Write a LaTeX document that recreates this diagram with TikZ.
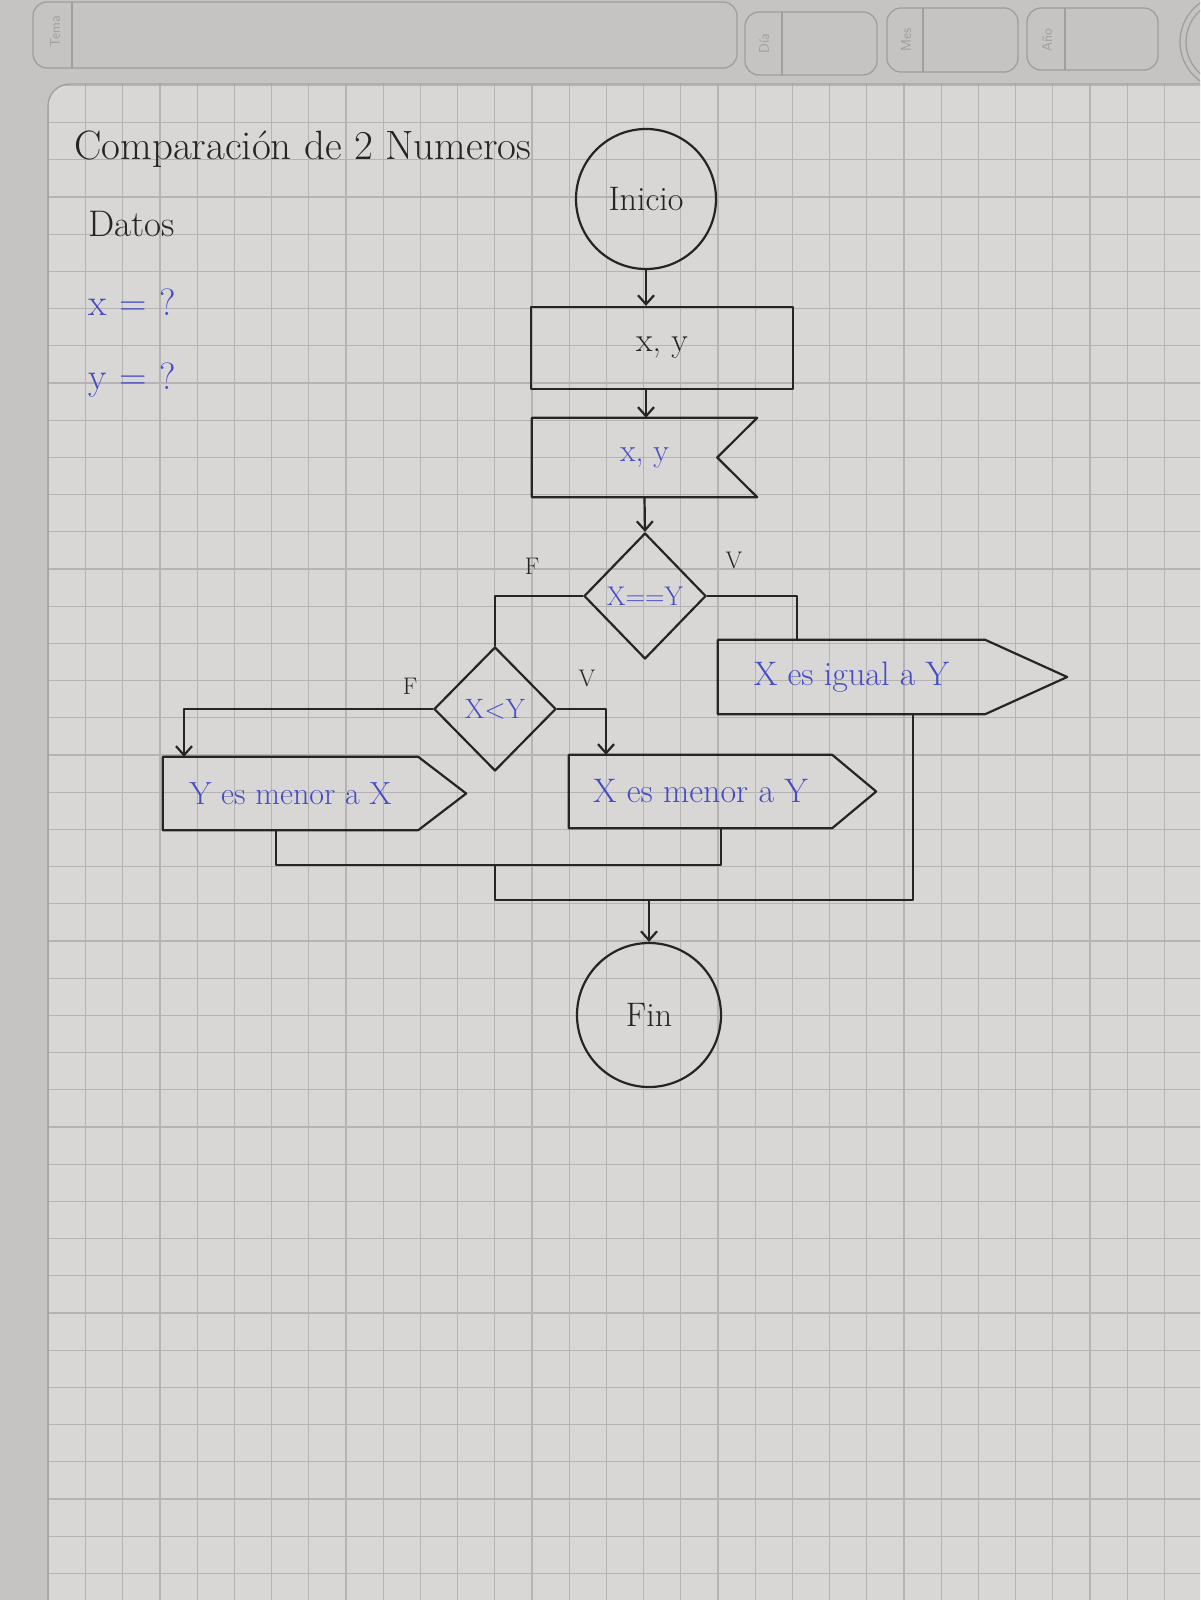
\documentclass[tikz,border=0pt]{standalone}
\usetikzlibrary{shapes.geometric,arrows.meta}
\definecolor{paper}{HTML}{D9D7D6}
\definecolor{hdr}{HTML}{C6C4C3}
\definecolor{hdrline}{HTML}{A09E9E}
\definecolor{gridc}{HTML}{B5B3B3}
\definecolor{ink}{HTML}{262525}
\definecolor{blueink}{HTML}{454CC4}
\begin{document}
\begin{tikzpicture}[x=1pt,y=-1pt,line join=round,line cap=round,
  shp/.style={draw=ink,line width=2.2pt},
  lnk/.style={draw=ink,line width=2.2pt},
  arr/.style={lnk,-{Straight Barb[length=9pt,width=16pt]}},
  bl/.style={text=blueink,font=\fontsize{32}{36}\selectfont},
  bk/.style={text=ink,font=\fontsize{34}{38}\selectfont},
  lab/.style={text=ink,font=\fontsize{24}{28}\selectfont},
  hbox/.style={draw=hdrline,line width=1.3pt,rounded corners=14pt},
  htxt/.style={text=hdrline,rotate=90,font=\sffamily\fontsize{14}{16}\selectfont}]
\useasboundingbox (0,0) rectangle (1200,1600);
\clip (0,0) rectangle (1200,1600);
% paper and header band
\fill[hdr] (0,0) rectangle (1200,1600);
\fill[paper,rounded corners=22pt] (48,84) rectangle (1240,1640);
\begin{scope}
  \clip[rounded corners=22pt] (48,84) rectangle (1240,1640);
  \foreach \i in {0,...,31} \draw[gridc,line width=1.1pt] ({48.4+37.2*\i},84) -- ({48.4+37.2*\i},1600);
  \foreach \j in {0,...,41} \draw[gridc,line width=1.1pt] (48,{85.4+37.2*\j}) -- (1200,{85.4+37.2*\j});
\end{scope}
\draw[hdrline,line width=1.3pt,rounded corners=22pt] (48,1600) -- (48,84) -- (1240,84);
% header form fields
\draw[hbox] (33,2) rectangle (737,68);
\draw[hdrline,line width=1.3pt] (72,2) -- (72,68);
\node[htxt] (tema) at (55,32) {Tema};
\draw[hbox] (745,12) rectangle (877,75);
\draw[hdrline,line width=1.3pt] (782,12) -- (782,75);
\node[htxt] (dia) at (764,44) {Día};
\draw[hbox] (887,8) rectangle (1018,72);
\draw[hdrline,line width=1.3pt] (923,8) -- (923,72);
\node[htxt] (mes) at (906,40) {Mes};
\draw[hbox] (1027,8) rectangle (1158,70);
\draw[hdrline,line width=1.3pt] (1065,8) -- (1065,70);
\node[htxt] (anio) at (1047,40) {Año};
\draw[hdrline,line width=1.3pt] (1228,42) circle (48);
\draw[hdrline,line width=1.3pt] (1228,42) circle (42);
% left texts
\node[anchor=base west,inner sep=0,text=ink,font=\fontsize{41}{46}\selectfont] (titulo) at (74,160) {Comparación de 2 Numeros};
\node[anchor=base west,inner sep=0,text=ink,font=\fontsize{37}{40}\selectfont] (datos) at (88,236) {Datos};
\node[anchor=base west,inner sep=0,text=blueink,font=\fontsize{38}{40}\selectfont] (dx) at (88,315) {x\,\,=\,\,?};
\node[anchor=base west,inner sep=0,text=blueink,font=\fontsize{38}{40}\selectfont] (dy) at (88,389) {y\,\,=\,\,?};
% flowchart nodes
\node[circle,shp,minimum size=140pt,inner sep=0,bk] (inicio) at (646,199) {Inicio};
\node[rectangle,shp,minimum width=262pt,minimum height=82pt,inner sep=0,bk] (entrada) at (662,348) {x, y};
\node[minimum width=225pt,minimum height=79pt,inner sep=0,bl] (lect) at (644.5,457.5) {x, y};
\draw[shp] (lect.north east) -- (lect.north west) -- (lect.south west) -- (lect.south east) -- ([xshift=-40pt]lect.east) -- cycle;
\node[diamond,shp,minimum width=122pt,minimum height=126pt,inner sep=0,bl,font=\fontsize{27}{30}\selectfont] (d1) at (645,596) {X==Y};
\node[diamond,shp,minimum width=122pt,minimum height=124pt,inner sep=0,bl,font=\fontsize{28}{30}\selectfont] (d2) at (495,709) {X<Y};
\node[minimum width=267pt,minimum height=74pt,inner sep=0,bl,font=\fontsize{34}{36}\selectfont] (igual) at (851.5,677) {X es igual a Y};
\draw[shp] (igual.north west) -- (igual.north east) -- ([xshift=82pt]igual.east) -- (igual.south east) -- (igual.south west) -- cycle;
\node[minimum width=255pt,minimum height=73pt,inner sep=0,bl] (menorY) at (290.5,793.5) {Y es menor a X};
\draw[shp] (menorY.north west) -- (menorY.north east) -- ([xshift=48pt]menorY.east) -- (menorY.south east) -- (menorY.south west) -- cycle;
\node[minimum width=263pt,minimum height=73pt,inner sep=0,bl,font=\fontsize{34}{36}\selectfont] (menorX) at (700.5,791.5) {X es menor a Y};
\draw[shp] (menorX.north west) -- (menorX.north east) -- ([xshift=44pt]menorX.east) -- (menorX.south east) -- (menorX.south west) -- cycle;
\node[circle,shp,minimum size=144pt,inner sep=0,bk] (fin) at (649,1015) {Fin};
% connectors
\draw[arr] (inicio.south) -- (inicio.south |- entrada.north);
\draw[arr] (inicio.south |- entrada.south) -- (inicio.south |- lect.north);
\draw[arr] (lect.south) -- (d1.north);
\draw[lnk] (d1.west) -| (d2.north);
\draw[lnk] (d1.east) -| ([xshift=-54.5pt]igual.north);
\draw[arr] (d2.west) -| ([xshift=-106.5pt]menorY.north);
\draw[arr] (d2.east) -| ([xshift=-94.5pt]menorX.north);
\coordinate (j1) at (495,865);
\coordinate (j2) at (495,900);
\draw[lnk] ([xshift=-14.5pt]menorY.south) |- (j1) -| ([xshift=20.5pt]menorX.south);
\draw[lnk] (j1) -- (j2) -| ([xshift=61.5pt]igual.south);
\draw[arr] (fin.north |- j2) -- (fin.north);
% branch labels
\node[lab] (f1) at (532,566) {F};
\node[lab] (v1) at (734,560) {V};
\node[lab] (f2) at (410,686) {F};
\node[lab] (v2) at (587,678) {V};
\end{tikzpicture}
\end{document}
